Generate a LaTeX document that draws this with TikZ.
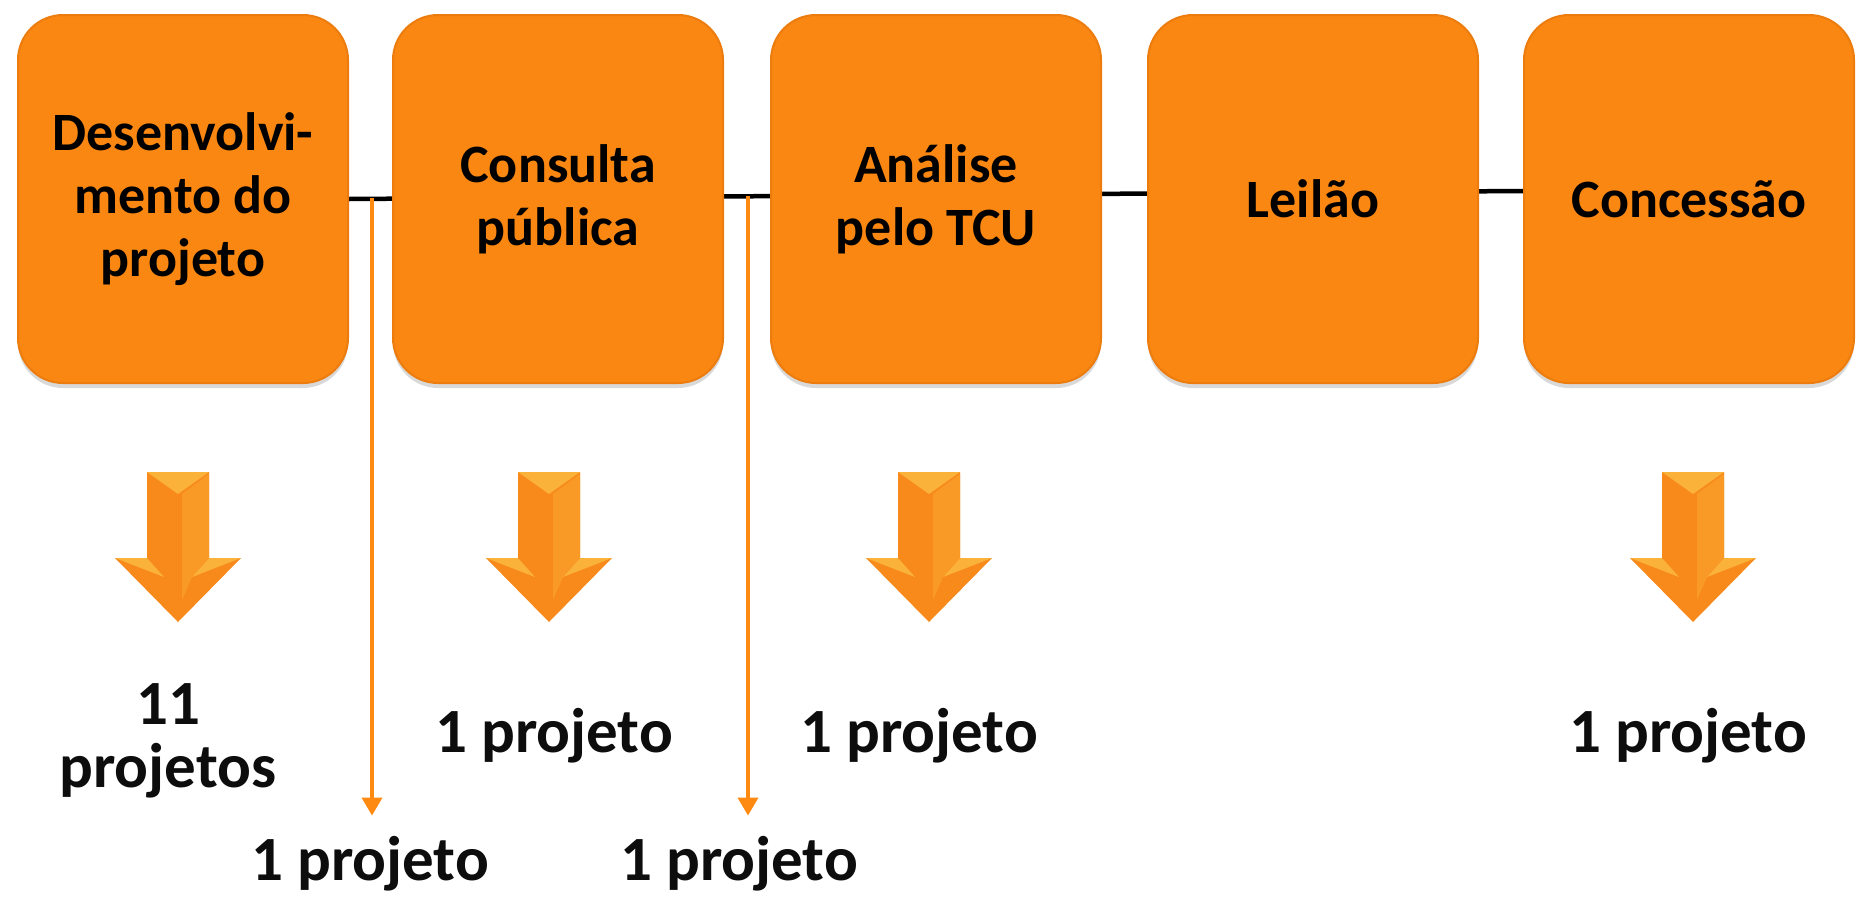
\documentclass[tikz,border=0pt]{standalone}
\usepackage{fontspec}
\setmainfont{Carlito}
\usetikzlibrary{shadows,arrows.meta,calc,backgrounds}
\definecolor{boxorange}{HTML}{FA8711}
\definecolor{boxedge}{HTML}{EC7C0E}
\definecolor{arrowmain}{HTML}{F78A1A}
\definecolor{arrowlight}{HTML}{FBB23A}
\definecolor{lineorange}{HTML}{FF8A12}
\begin{document}
\begin{tikzpicture}[x=1pt,y=-1pt,
  stage/.style={rounded corners=45pt, minimum width=330pt, minimum height=368pt,
    fill=boxorange, draw=boxedge, line width=2pt, inner sep=0pt, align=center,
    font=\fontsize{54}{63}\selectfont\bfseries,
    drop shadow={shadow xshift=0pt, shadow yshift=-5pt, opacity=0.25, fill=black!60}},
  count/.style={font=\fontsize{63}{63}\selectfont\bfseries, align=center, inner sep=0pt, text=black!95},
  conn/.style={line width=4.5pt, draw=black},
  branch/.style={line width=3.5pt, draw=lineorange, -{Triangle[width=20pt,length=18pt,fill=lineorange]}},
  bigarrow/.style={fill=arrowmain},
  bevel/.style={fill=arrowlight}
]
\useasboundingbox (0,0) rectangle (1865,908);

% stage boxes
\node[stage] (b1) at (183,199) {Desenvolvi-\\mento do\\projeto};
\node[stage] (b2) at (558,199) {Consulta\\pública};
\node[stage] (b3) at (936,199) {Análise\\pelo TCU};
\node[stage] (b4) at (1313,199) {Leilão};
\node[stage] (b5) at (1689,199) {Concessão};

% timeline line behind the boxes
\begin{scope}[on background layer]
  \draw[conn] (b1.east) -- ($(b5.west)+(0,-8)$);
\end{scope}

% big down arrows
\foreach \cx in {178,549,929,1693}{
  \fill[bigarrow] (\cx-31,472) -- (\cx+31,472) -- (\cx+31,558) -- (\cx+63,558)
        -- (\cx,622) -- (\cx-63,558) -- (\cx-31,558) -- cycle;
  \fill[bevel] (\cx-31,472) -- (\cx+31,472) -- (\cx,494) -- cycle;
  \fill[bevel] (\cx-63,558) -- (\cx-31,558) -- (\cx-14,577) -- cycle;
  \fill[bevel] (\cx+63,558) -- (\cx+31,558) -- (\cx+14,577) -- cycle;
  \fill[arrowlight!40!arrowmain] (\cx+4,494) -- (\cx+31,474) -- (\cx+31,558) -- (\cx+14,577) -- (\cx+4,600) -- cycle;
}

% counts
\node[count] (c1) at (168,741) {11\\projetos};
\node[count, anchor=base] (c2) at (554,752) {1 projeto};
\node[count, anchor=base] (c3) at (919,752) {1 projeto};
\node[count, anchor=base] (c5) at (1688,752) {1 projeto};
\node[count, anchor=base] (l1) at (370,880) {1 projeto};
\node[count, anchor=base] (l2) at (739,880) {1 projeto};

% branch arrows
\coordinate (j1) at (372,198);
\coordinate (j2) at (748,196);
\draw[branch] (j1) -- ($(j1 |- l1.north)+(0,-20)$);
\draw[branch] (j2) -- ($(j2 |- l2.north)+(0,-20)$);
\end{tikzpicture}
\end{document}
